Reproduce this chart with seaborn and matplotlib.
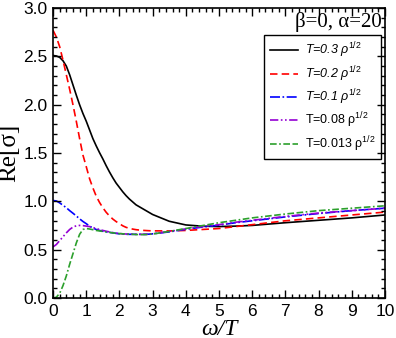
import numpy as np
import pandas as pd
import seaborn as sns
import matplotlib.pyplot as plt
from matplotlib.ticker import MultipleLocator

# omega/T grid and Re[sigma] curves
omega = [0.0, 0.1, 0.2, 0.3, 0.4, 0.5, 0.6, 0.7, 0.8, 0.9,
         1.0, 1.1, 1.2, 1.3, 1.4, 1.5, 1.6, 1.7, 1.8, 1.9,
         2.0, 2.1, 2.2, 2.3, 2.4, 2.5, 2.6, 2.7, 2.8, 2.9,
         3.0, 3.5, 4.0, 4.5, 5.0, 5.5, 6.0, 7.0, 8.0, 9.0, 10.0]
t030 = [2.51, 2.505, 2.49, 2.455, 2.40, 2.31, 2.205, 2.10, 2.00, 1.91,
        1.83, 1.74, 1.65, 1.575, 1.505, 1.44, 1.37, 1.305, 1.245, 1.19,
        1.145, 1.10, 1.06, 1.025, 0.995, 0.965, 0.945, 0.925, 0.905, 0.885,
        0.865, 0.795, 0.757, 0.744, 0.74, 0.745, 0.752, 0.78, 0.805, 0.83, 0.86]
t020 = [2.77, 2.70, 2.60, 2.46, 2.31, 2.16, 2.00, 1.83, 1.65, 1.48,
        1.36, 1.235, 1.14, 1.055, 0.99, 0.935, 0.888, 0.85, 0.818, 0.792,
        0.77, 0.748, 0.732, 0.722, 0.714, 0.708, 0.704, 0.701, 0.699, 0.697,
        0.696, 0.695, 0.70, 0.71, 0.72, 0.74, 0.76, 0.80, 0.83, 0.86, 0.89]
t010 = [1.01, 1.005, 0.985, 0.96, 0.935, 0.905, 0.878, 0.85, 0.82, 0.793,
        0.77, 0.745, 0.725, 0.71, 0.70, 0.692, 0.686, 0.68, 0.675, 0.67,
        0.665, 0.662, 0.66, 0.66, 0.66, 0.66, 0.66, 0.66, 0.66, 0.662,
        0.665, 0.685, 0.712, 0.735, 0.755, 0.78, 0.80, 0.84, 0.875, 0.905, 0.93]
t008 = [0.53, 0.555, 0.595, 0.635, 0.675, 0.71, 0.735, 0.748, 0.752, 0.75,
        0.745, 0.74, 0.73, 0.72, 0.71, 0.70, 0.692, 0.685, 0.678, 0.672,
        0.668, 0.665, 0.663, 0.662, 0.661, 0.66, 0.66, 0.66, 0.66, 0.662,
        0.665, 0.69, 0.715, 0.74, 0.76, 0.785, 0.805, 0.845, 0.88, 0.905, 0.93]
t0013 = [0.0, 0.01, 0.05, 0.13, 0.23, 0.35, 0.46, 0.57, 0.66, 0.71,
         0.72, 0.715, 0.708, 0.70, 0.695, 0.69, 0.685, 0.68, 0.675, 0.67,
         0.668, 0.665, 0.663, 0.661, 0.66, 0.658, 0.657, 0.657, 0.658, 0.66,
         0.663, 0.69, 0.72, 0.75, 0.78, 0.805, 0.83, 0.87, 0.905, 0.93, 0.955]

labels = ["T=0.3 ρ$^{1/2}$", "T=0.2 ρ$^{1/2}$", "T=0.1 ρ$^{1/2}$",
          "T=0.08 ρ$^{1/2}$", "T=0.013 ρ$^{1/2}$"]
colors = ["black", "red", "blue", "#9400d3", "#2ca02c"]
styles = ["-", (0, (4.5, 2.5)), (0, (6, 1.5, 1, 1.5)), (0, (5, 1.5, 1, 1.5, 1, 1.5)),
          (0, (4, 1.5, 1, 1.5, 4, 1.5))]

plt.rcParams["font.family"] = ["Liberation Sans", "DejaVu Sans"]
plt.rcParams["mathtext.fontset"] = "custom"
plt.rcParams["mathtext.rm"] = "Liberation Sans"
plt.rcParams["mathtext.it"] = "Liberation Sans:italic"

rect = [0.134, 0.118, 0.838, 0.858]
fig = plt.figure(figsize=(3.96, 3.38), dpi=100)
ax = fig.add_axes(rect)

for ys, lab, c, ls in zip([t030, t020, t010, t008, t0013], labels, colors, styles):
    sns.lineplot(x=omega, y=ys, ax=ax, color=c, linestyle=ls, linewidth=1.2, label=lab)

ax.set_xlim(0, 10)
ax.set_ylim(0, 3.0)
ax.xaxis.set_major_locator(MultipleLocator(1))
ax.yaxis.set_major_locator(MultipleLocator(0.5))
ax.yaxis.set_major_formatter(plt.FormatStrFormatter("%.1f"))
ax.tick_params(which="both", direction="in", length=0, labelsize=12.5, pad=4)
for s in ax.spines.values():
    s.set_linewidth(1.2)

ax.set_xlabel("ω/T", family="Liberation Serif", style="italic", fontsize=17, labelpad=0)
ax.set_ylabel("Re[σ]", family="Liberation Serif", fontsize=18, labelpad=2)
ax.text(0.99, 0.935, "β=0, α=20", transform=ax.transAxes, ha="right", va="baseline",
        family="Liberation Serif", fontsize=15)

leg = ax.legend(loc="upper right", bbox_to_anchor=(0.988, 0.907), fontsize=9, frameon=True,
                fancybox=False, edgecolor="black", framealpha=1, handlelength=2.3,
                handletextpad=0.5, borderpad=0.45, labelspacing=0.3, borderaxespad=0)
leg.get_frame().set_linewidth(1.0)
for t in leg.get_texts()[:3]:
    t.set_style("italic")

# separate overlay axes that only carries the inward tick marks
tk = fig.add_axes(rect, frameon=False)
tk.patch.set_visible(False)
tk.set_xlim(0, 10)
tk.set_ylim(0, 3.0)
tk.xaxis.set_major_locator(MultipleLocator(1))
tk.xaxis.set_minor_locator(MultipleLocator(0.2))
tk.yaxis.set_major_locator(MultipleLocator(0.5))
tk.yaxis.set_minor_locator(MultipleLocator(0.1))
tk.tick_params(which="both", direction="in", top=True, right=True, bottom=True, left=True,
               width=1.0, color="black", labelbottom=False, labelleft=False)
tk.tick_params(which="major", length=6)
tk.tick_params(which="minor", length=3)

fig.savefig("out.png", dpi=100)
